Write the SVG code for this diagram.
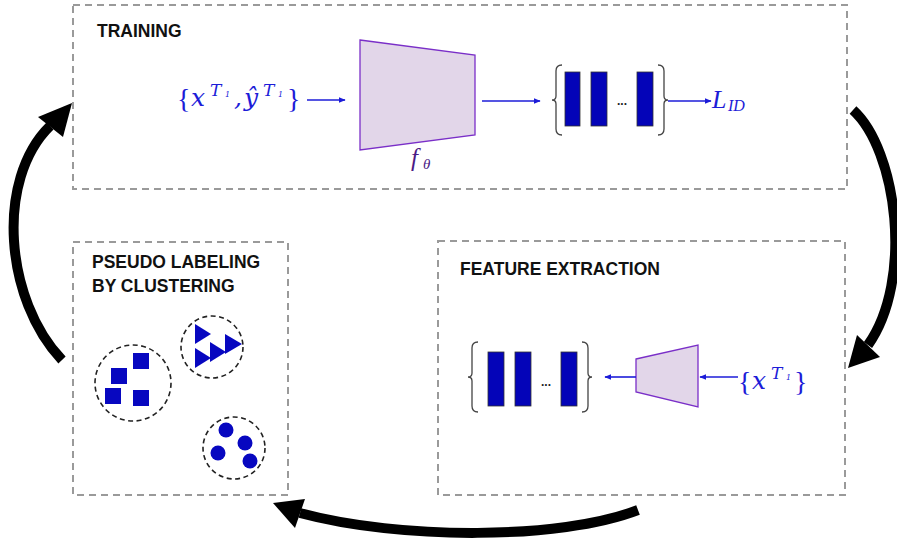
<svg xmlns="http://www.w3.org/2000/svg" width="897" height="541" viewBox="0 0 897 541">
<style>
.box{fill:none;stroke:#9a9a9a;stroke-width:2;stroke-dasharray:7 5}
.title{font-family:"Liberation Sans",Arial,sans-serif;font-weight:bold;font-size:17.5px;fill:#111}
.math{font-family:"DejaVu Serif","Liberation Serif",serif;font-style:italic;fill:#1c1cd8}
.mathl{font-family:"Liberation Serif","DejaVu Serif",serif;font-style:italic;fill:#1c1cd8}
.brace{font-family:"Liberation Serif","DejaVu Serif",serif;fill:#1c1cd8}
.bar{fill:#0404b8;stroke:#333;stroke-width:0.8}
.br{fill:none;stroke:#444;stroke-width:1.3}
.trap{fill:#e2d6e9;stroke:#7a2fc8;stroke-width:1.3}
.conn{fill:none;stroke:#1c1cd8;stroke-width:1.6}
.big{fill:none;stroke:#000;stroke-width:10}
.clu{fill:none;stroke:#222;stroke-width:1.6;stroke-dasharray:5 3.5}
.dots{font-family:"Liberation Sans",Arial,sans-serif;font-weight:bold;font-size:12px;fill:#222}
.shape{fill:#0707c0}
</style>
<defs>
<marker id="ah" viewBox="0 0 10 10" refX="9" refY="5" markerWidth="7" markerHeight="7" markerUnits="userSpaceOnUse" orient="auto">
<path d="M0,1 L10,5 L0,9 z" fill="#1c1cd8"/>
</marker>
</defs>
<rect width="897" height="541" fill="#fff"/>

<g id="training">
<rect class="box" x="73" y="5" width="774" height="184"/>
<text class="title" x="97" y="37">TRAINING</text>
<g id="train-input">
<text class="brace" x="177" y="108" font-size="28">{</text>
<text class="math" x="191" y="106" font-size="25">x</text>
<text class="math" x="210" y="96" font-size="17">T</text>
<text class="math" x="225" y="97" font-size="8">1</text>
<text class="math" x="234" y="106" font-size="25">,</text>
<text class="math" x="244" y="106" font-size="25">ŷ</text>
<text class="math" x="263" y="96" font-size="17">T</text>
<text class="math" x="278" y="97" font-size="8">1</text>
<text class="brace" x="287" y="108" font-size="28">}</text>
</g>
<g id="encoder">
<polygon class="trap" points="360,40 475,55 475,135 360,150"/>
<text x="411" y="166" font-family="Liberation Serif, serif" font-style="italic" font-size="25" fill="#4b1a85">f</text>
<text x="423" y="169" font-family="Liberation Serif, serif" font-style="italic" font-size="15" fill="#4b1a85">θ</text>
</g>
<g id="train-features">
<path class="br" d="M562,65 Q556,65 556,71 L556,96 Q556,100 552,100 Q556,100 556,104 L556,129 Q556,135 562,135"/>
<rect class="bar" x="565" y="72" width="15" height="54"/>
<rect class="bar" x="591" y="72" width="16" height="54"/>
<text class="dots" x="617" y="105">...</text>
<rect class="bar" x="637" y="72" width="16" height="54"/>
<path class="br" d="M658,65 Q664,65 664,71 L664,96 Q664,100 668,100 Q664,100 664,104 L664,129 Q664,135 658,135"/>
</g>
<g id="loss">
<text class="mathl" x="712" y="108" font-size="26">L</text>
<text class="mathl" x="728" y="111" font-size="16">ID</text>
</g>
</g>

<g id="feature-extraction">
<rect class="box" x="438" y="241" width="407" height="254"/>
<text class="title" x="460" y="275">FEATURE EXTRACTION</text>
<g id="fe-features">
<path class="br" d="M478,342 Q472,342 472,348 L472,373 Q472,377 468,377 Q472,377 472,381 L472,406 Q472,412 478,412"/>
<rect class="bar" x="488" y="352" width="16" height="54"/>
<rect class="bar" x="515" y="352" width="16" height="54"/>
<text class="dots" x="541" y="386">...</text>
<rect class="bar" x="561" y="352" width="16" height="54"/>
<path class="br" d="M582,342 Q588,342 588,348 L588,373 Q588,377 592,377 Q588,377 588,381 L588,406 Q588,412 582,412"/>
</g>
<polygon id="fe-encoder" class="trap" points="636,359 698,345 698,407 636,392"/>
<g id="fe-input">
<text class="brace" x="738" y="391" font-size="28">{</text>
<text class="math" x="752" y="389" font-size="25">x</text>
<text class="math" x="771" y="379" font-size="17">T</text>
<text class="math" x="786" y="380" font-size="8">1</text>
<text class="brace" x="794" y="391" font-size="28">}</text>
</g>
</g>

<g id="pseudo-labeling">
<rect class="box" x="73" y="242" width="215" height="253"/>
<text class="title" x="92" y="268">PSEUDO LABELING</text>
<text class="title" x="92" y="292">BY CLUSTERING</text>
<g id="cluster-squares">
<circle class="clu" cx="133" cy="383" r="38"/>
<rect class="shape" x="133" y="353" width="16" height="16"/>
<rect class="shape" x="111" y="368" width="16" height="16"/>
<rect class="shape" x="105" y="388" width="16" height="16"/>
<rect class="shape" x="133" y="390" width="16" height="16"/>
</g>
<g id="cluster-triangles">
<circle class="clu" cx="212" cy="347" r="31"/>
<polygon class="shape" points="195,324 195,344 211,334"/>
<polygon class="shape" points="195,348 195,368 211,358"/>
<polygon class="shape" points="210,342 210,362 226,352"/>
<polygon class="shape" points="225,334 225,354 242,344"/>
</g>
<g id="cluster-circles">
<circle class="clu" cx="234" cy="448" r="31"/>
<circle class="shape" cx="226" cy="430" r="7.5"/>
<circle class="shape" cx="245" cy="443" r="7.5"/>
<circle class="shape" cx="218" cy="453" r="7.5"/>
<circle class="shape" cx="250" cy="461" r="7.5"/>
</g>
</g>

<g id="connectors">
<line class="conn" x1="307" y1="100" x2="345" y2="100" marker-end="url(#ah)"/>
<line class="conn" x1="482" y1="101" x2="540" y2="101" marker-end="url(#ah)"/>
<line class="conn" x1="668" y1="101" x2="711" y2="101" marker-end="url(#ah)"/>
<line class="conn" x1="636" y1="377" x2="605" y2="377" marker-end="url(#ah)"/>
<line class="conn" x1="738" y1="377" x2="700" y2="377" marker-end="url(#ah)"/>
<path class="big" d="M62,360 C5,300 -5,180 50,126"/>
<polygon points="72,103 38,117 63,137" fill="#000"/>
<path class="big" d="M853,110 C897,150 914,280 868,345"/>
<polygon points="848,368 857,335 880,357" fill="#000"/>
<path class="big" d="M638,510 C560,540 400,540 300,513"/>
<polygon points="273,503 305,499 295,528" fill="#000"/>
</g>
</svg>
